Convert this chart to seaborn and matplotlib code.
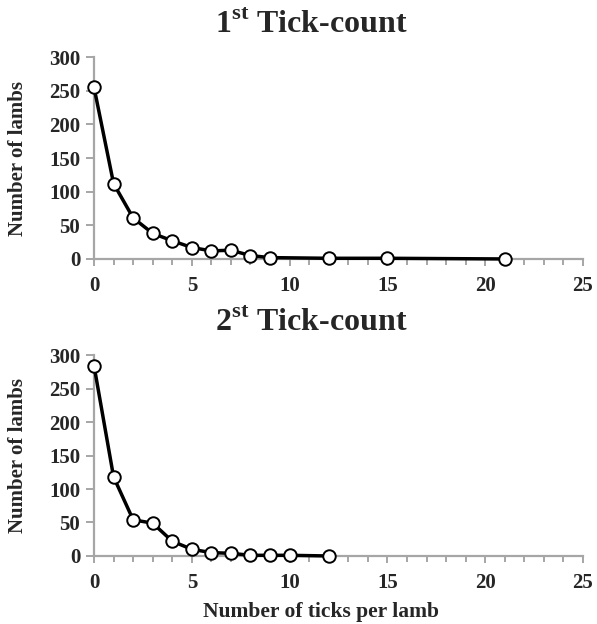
import matplotlib
matplotlib.use("Agg")
import matplotlib.pyplot as plt
import seaborn as sns
import pandas as pd
from matplotlib.ticker import MultipleLocator

# Data
ticks_first = [0, 1, 2, 3, 4, 5, 6, 7, 8, 9, 12, 15, 21]
lambs_first = [255, 112, 61, 38, 27, 17, 12, 13, 5, 2, 1, 1, 0]

ticks_second = [0, 1, 2, 3, 4, 5, 6, 7, 8, 9, 10, 12]
lambs_second = [284, 118, 54, 49, 22, 10, 5, 4, 1, 1, 1, 0]

titles = ["1$^{\\mathbf{st}}$ Tick-count", "2$^{\\mathbf{st}}$ Tick-count"]
y_label = "Number of lambs"
x_label = "Number of ticks per lamb"

sns.set_style("white")
plt.rcParams["font.family"] = ["Liberation Serif", "DejaVu Serif"]
plt.rcParams["font.weight"] = "bold"
plt.rcParams["mathtext.fontset"] = "custom"
plt.rcParams["mathtext.rm"] = "Liberation Serif:bold"
plt.rcParams["mathtext.bf"] = "Liberation Serif:bold"

fig = plt.figure(figsize=(5.97, 6.24), dpi=100)
ax1 = fig.add_axes([0.1575, 0.585, 0.819, 0.3235])
ax2 = fig.add_axes([0.1575, 0.109, 0.819, 0.322])

spine_col = "#a6a6a6"

def draw_panel(ax, xs, ys, title, title_y):
    df = pd.DataFrame({"ticks": xs, "lambs": ys})
    sns.lineplot(data=df, x="ticks", y="lambs", ax=ax, color="black",
                 linewidth=2.5, marker="o", markersize=9,
                 markerfacecolor="white", markeredgecolor="black",
                 markeredgewidth=1.4, clip_on=False, zorder=5)
    ax.set_xlim(0, 25)
    ax.set_ylim(0, 300)
    ax.xaxis.set_major_locator(MultipleLocator(5))
    ax.xaxis.set_minor_locator(MultipleLocator(1))
    ax.yaxis.set_major_locator(MultipleLocator(50))
    for s in ["top", "right"]:
        ax.spines[s].set_visible(False)
    for s in ["left", "bottom"]:
        ax.spines[s].set_color(spine_col)
        ax.spines[s].set_linewidth(1.6)
    ax.tick_params(axis="both", which="both", direction="out", color=spine_col,
                   width=1.4)
    ax.tick_params(axis="y", which="major", length=6, pad=4, labelsize=15)
    ax.tick_params(axis="x", which="major", length=5, pad=7, labelsize=15)
    ax.tick_params(axis="x", which="minor", length=4)
    ax.tick_params(bottom=True, left=True, which="both")
    for lab in ax.get_xticklabels() + ax.get_yticklabels():
        lab.set_fontweight("bold")
    ax.set_xlabel("")
    ax.set_ylabel(y_label, fontsize=15, fontweight="bold")
    ax.yaxis.set_label_coords(-0.135, 0.5)
    fig.text(0.522, title_y, title, ha="center", va="center",
             fontsize=23, fontweight="bold")

draw_panel(ax1, ticks_first, lambs_first, titles[0], 0.96)
draw_panel(ax2, ticks_second, lambs_second, titles[1], 0.481)

fig.text(0.538, 0.02, x_label, ha="center", va="center",
         fontsize=15.5, fontweight="bold")

fig.savefig("out.png", dpi=100)
